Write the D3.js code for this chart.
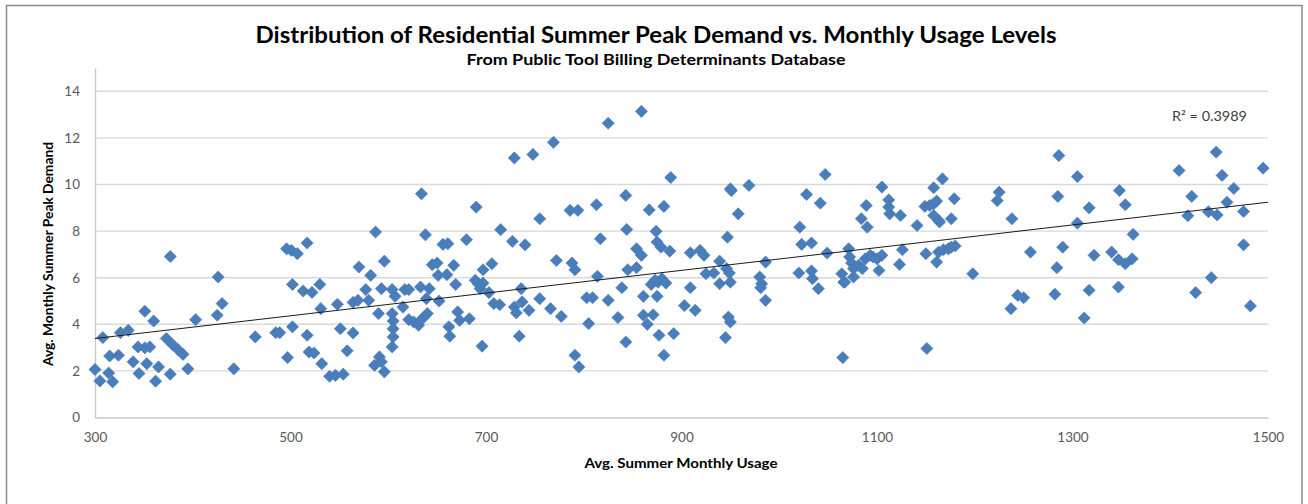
<!DOCTYPE html>
<html>
<head>
<meta charset="utf-8">
<script src="https://cdn.jsdelivr.net/npm/d3@7/dist/d3.min.js"></script>
<style>
  html, body { margin: 0; padding: 0; background: #fff; }
  svg { display: block; }
  text { font-family: Lato, "Open Sans", sans-serif; }
</style>
</head>
<body>
<svg id="chart" width="1308" height="504"></svg>
<script>
// ---- Data ----
const usage = [
  377,426,430,425,351,360,403,308,326,334,373,379,385,390,344,351,356,315,324,339,353,365,300,314,305,318,345,362,377,395,442,
  464,485,489,502,497,496,501,507,517,502,513,522,530,531,517,519,524,532,540,546,554,548,551,558,564,564,569,570,577,580,582,587,596,590,593,586,591,593,596,
  604,607,604,605,605,605,604,617,621,615,633,642,639,652,634,638,656,661,645,650,651,660,667,669,680,690,621,626,631,636,640,633,662,663,671,673,683,696,689,692,697,694,697,706,703,708,714,715,727,740,729,748,755,736,729,731,737,744,734,755,
  769,825,859,889,843,786,794,813,867,882,844,817,874,875,879,854,859,888,909,772,788,791,814,845,854,839,869,876,880,884,873,909,766,777,803,809,825,805,835,861,875,861,871,865,877,892,843,903,791,795,882,
  919,923,914,925,933,939,946,949,939,950,947,951,950,969,958,948,950,945,980,982,981,986,986,1021,1023,1033,1028,1042,1047,1049,1020,1033,1034,1040,1064,1066,1065,
  1071,1072,1074,1076,1076,1081,1085,1088,1093,1096,1100,1102,1105,1067,1105,1089,1084,1090,1112,1112,1113,1124,1123,1126,1141,1150,1151,1158,1167,1149,1154,1158,1161,1158,1163,1164,1176,1179,1161,1163,1168,1173,1176,1180,1198,
  1225,1223,1238,1286,1305,1285,1317,1348,1354,1305,1362,1257,1290,1284,1322,1340,1347,1354,1361,1244,1250,1237,1282,1317,1312,1347,
  1409,1447,1453,1495,1465,1422,1458,1418,1439,1448,1475,1475,1442,1426,1482
];
const peak = [
  6.91,6.03,4.89,4.39,4.56,4.14,4.20,3.43,3.64,3.74,3.39,3.14,2.91,2.71,3.03,2.99,3.03,2.64,2.67,2.39,2.31,2.17,2.06,1.91,1.57,1.53,1.89,1.56,1.86,2.09,2.09,
  3.46,3.64,3.64,3.89,2.57,7.24,7.17,7.03,7.49,5.71,5.43,5.37,5.71,4.67,3.53,2.81,2.77,2.31,1.77,1.81,1.86,4.86,3.81,2.86,3.63,4.94,5.03,6.46,5.49,5.03,6.10,7.96,6.71,4.46,5.53,2.24,2.60,2.39,1.96,
  5.49,5.20,4.46,4.14,3.81,3.46,3.03,5.49,5.49,4.74,5.60,5.53,5.10,5.00,9.60,7.84,7.43,7.46,6.56,6.63,6.10,6.13,6.53,5.71,7.63,9.03,4.20,4.10,3.96,4.29,4.46,4.16,3.89,3.49,4.53,4.17,4.24,3.06,5.89,5.74,5.77,5.53,6.34,6.60,5.36,4.89,4.84,8.06,7.56,7.41,11.14,11.29,8.53,5.53,4.74,4.49,4.96,4.60,3.49,5.10,
  11.81,12.63,13.14,10.30,9.53,8.89,8.89,9.13,8.91,9.06,8.07,7.67,7.99,7.53,7.31,7.24,6.96,7.14,7.07,6.74,6.63,6.34,6.06,6.34,6.43,5.57,5.71,5.81,5.96,5.77,5.89,5.57,4.67,4.34,5.14,5.14,5.03,4.03,4.29,5.20,5.20,4.39,4.41,4.00,3.53,3.60,3.24,4.80,2.67,2.17,2.67,
  7.17,6.96,4.60,6.17,6.20,6.71,6.39,6.20,5.74,5.81,7.74,9.74,9.81,9.96,8.74,4.31,4.10,3.43,6.03,5.74,5.57,6.67,5.03,8.17,7.43,7.49,9.57,9.20,10.43,7.06,6.20,6.29,5.96,5.53,6.17,5.81,2.57,
  7.24,6.89,6.63,6.39,6.03,6.53,6.39,6.81,6.96,6.89,6.81,6.31,6.96,5.81,9.89,9.10,8.53,8.17,9.34,9.03,8.74,8.67,6.57,7.20,8.24,7.03,2.96,9.86,10.24,9.06,9.10,9.17,9.29,8.67,8.46,8.39,8.53,9.39,6.67,7.10,7.20,7.24,7.31,7.36,6.17,
  9.67,9.31,8.53,11.24,10.34,9.49,9.00,9.74,9.13,8.34,7.86,7.10,7.31,6.43,6.96,7.10,6.77,6.60,6.81,5.24,5.14,4.67,5.29,5.46,4.27,5.60,
  10.60,11.39,10.39,10.70,9.83,9.49,9.24,8.66,8.83,8.69,8.84,7.41,6.00,5.36,4.79
];
const xTicks = [300, 500, 700, 900, 1100, 1300, 1500];
const yTicks = [0, 2, 4, 6, 8, 10, 12, 14];
const trendUsage = [300, 1500];
const trendPeak = [3.39, 9.24];
const rSquaredLabel = "R² = 0.3989";
const titleText = "Distribution of Residential Summer Peak Demand vs. Monthly Usage Levels";
const subtitleText = "From Public Tool Billing Determinants Database";
const xTitle = "Avg. Summer Monthly Usage";
const yTitle = "Avg. Monthly Summer Peak Demand";

// ---- Drawing ----
const svg = d3.select("#chart");
const plot = { left: 95, right: 1268, top: 68, bottom: 417.5 };

const x = d3.scaleLinear().domain([300, 1500]).range([plot.left, plot.right]);
const y = d3.scaleLinear().domain([0, 15]).range([plot.bottom, plot.top]);

// outer frame
svg.append("rect")
  .attr("x", 6.5).attr("y", 5.5)
  .attr("width", 1295.5).attr("height", 510)
  .attr("fill", "#fff")
  .attr("stroke", "#8a8a8a").attr("stroke-width", 1.5);

// gridlines
svg.append("g")
  .selectAll("line")
  .data(yTicks.filter(d => d > 0))
  .join("line")
  .attr("x1", plot.left).attr("x2", plot.right)
  .attr("y1", d => y(d)).attr("y2", d => y(d))
  .attr("stroke", "#d9d9d9").attr("stroke-width", 1.4);

// axes
const xAxis = d3.axisBottom(x).tickValues(xTicks).tickFormat(d3.format("d")).tickSize(0).tickPadding(15);
const gx = svg.append("g").attr("transform", `translate(0,${plot.bottom})`).call(xAxis);
gx.select(".domain").attr("stroke", "#c8c8c8").attr("stroke-width", 1.4);
gx.selectAll("text").attr("font-size", 13.5).attr("fill", "#595959")
  .attr("font-family", "Lato, 'Open Sans', sans-serif");

const yAxis = d3.axisLeft(y).tickValues(yTicks).tickFormat(d3.format("d")).tickSize(0).tickPadding(15);
const gy = svg.append("g").attr("transform", `translate(${plot.left},0)`).call(yAxis);
gy.select(".domain").attr("stroke", "#c8c8c8").attr("stroke-width", 1.4);
gy.selectAll("text").attr("font-size", 13.5).attr("fill", "#595959")
  .attr("font-family", "Lato, 'Open Sans', sans-serif");

// points
const pts = usage.map((u, i) => ({ u, p: peak[i] }));
const diamond = d3.symbol().type(d3.symbolSquare).size(74);
svg.append("g")
  .selectAll("path")
  .data(pts)
  .join("path")
  .attr("d", diamond)
  .attr("transform", d => `translate(${x(d.u)},${y(d.p)}) rotate(45)`)
  .attr("fill", "#4a7ebb")
  .attr("stroke", "#4679b6").attr("stroke-width", 0.6);

// trendline
svg.append("line")
  .attr("x1", x(trendUsage[0])).attr("y1", y(trendPeak[0]))
  .attr("x2", x(trendUsage[1])).attr("y2", y(trendPeak[1]))
  .attr("stroke", "#1a1a1a").attr("stroke-width", 1);

// texts
function fitText(sel, len) {
  sel.attr("textLength", len).attr("lengthAdjust", "spacingAndGlyphs");
}
fitText(svg.append("text").text(titleText)
  .attr("x", 656).attr("y", 43).attr("text-anchor", "middle")
  .attr("font-size", 22).attr("font-weight", "bold").attr("fill", "#000"), 801);

fitText(svg.append("text").text(subtitleText)
  .attr("x", 656).attr("y", 65).attr("text-anchor", "middle")
  .attr("font-size", 14.5).attr("font-weight", "bold").attr("fill", "#000"), 379);

fitText(svg.append("text").text(xTitle)
  .attr("x", 681).attr("y", 468).attr("text-anchor", "middle")
  .attr("font-size", 13.5).attr("font-weight", "bold").attr("fill", "#000"), 193);

fitText(svg.append("text").text(yTitle)
  .attr("transform", "translate(53,254) rotate(-90)")
  .attr("text-anchor", "middle")
  .attr("font-size", 13.5).attr("font-weight", "bold").attr("fill", "#000"), 224);

fitText(svg.append("text").text(rSquaredLabel)
  .attr("x", 1172).attr("y", 121)
  .attr("font-size", 13.5).attr("fill", "#404040"), 75);
</script>
</body>
</html>
